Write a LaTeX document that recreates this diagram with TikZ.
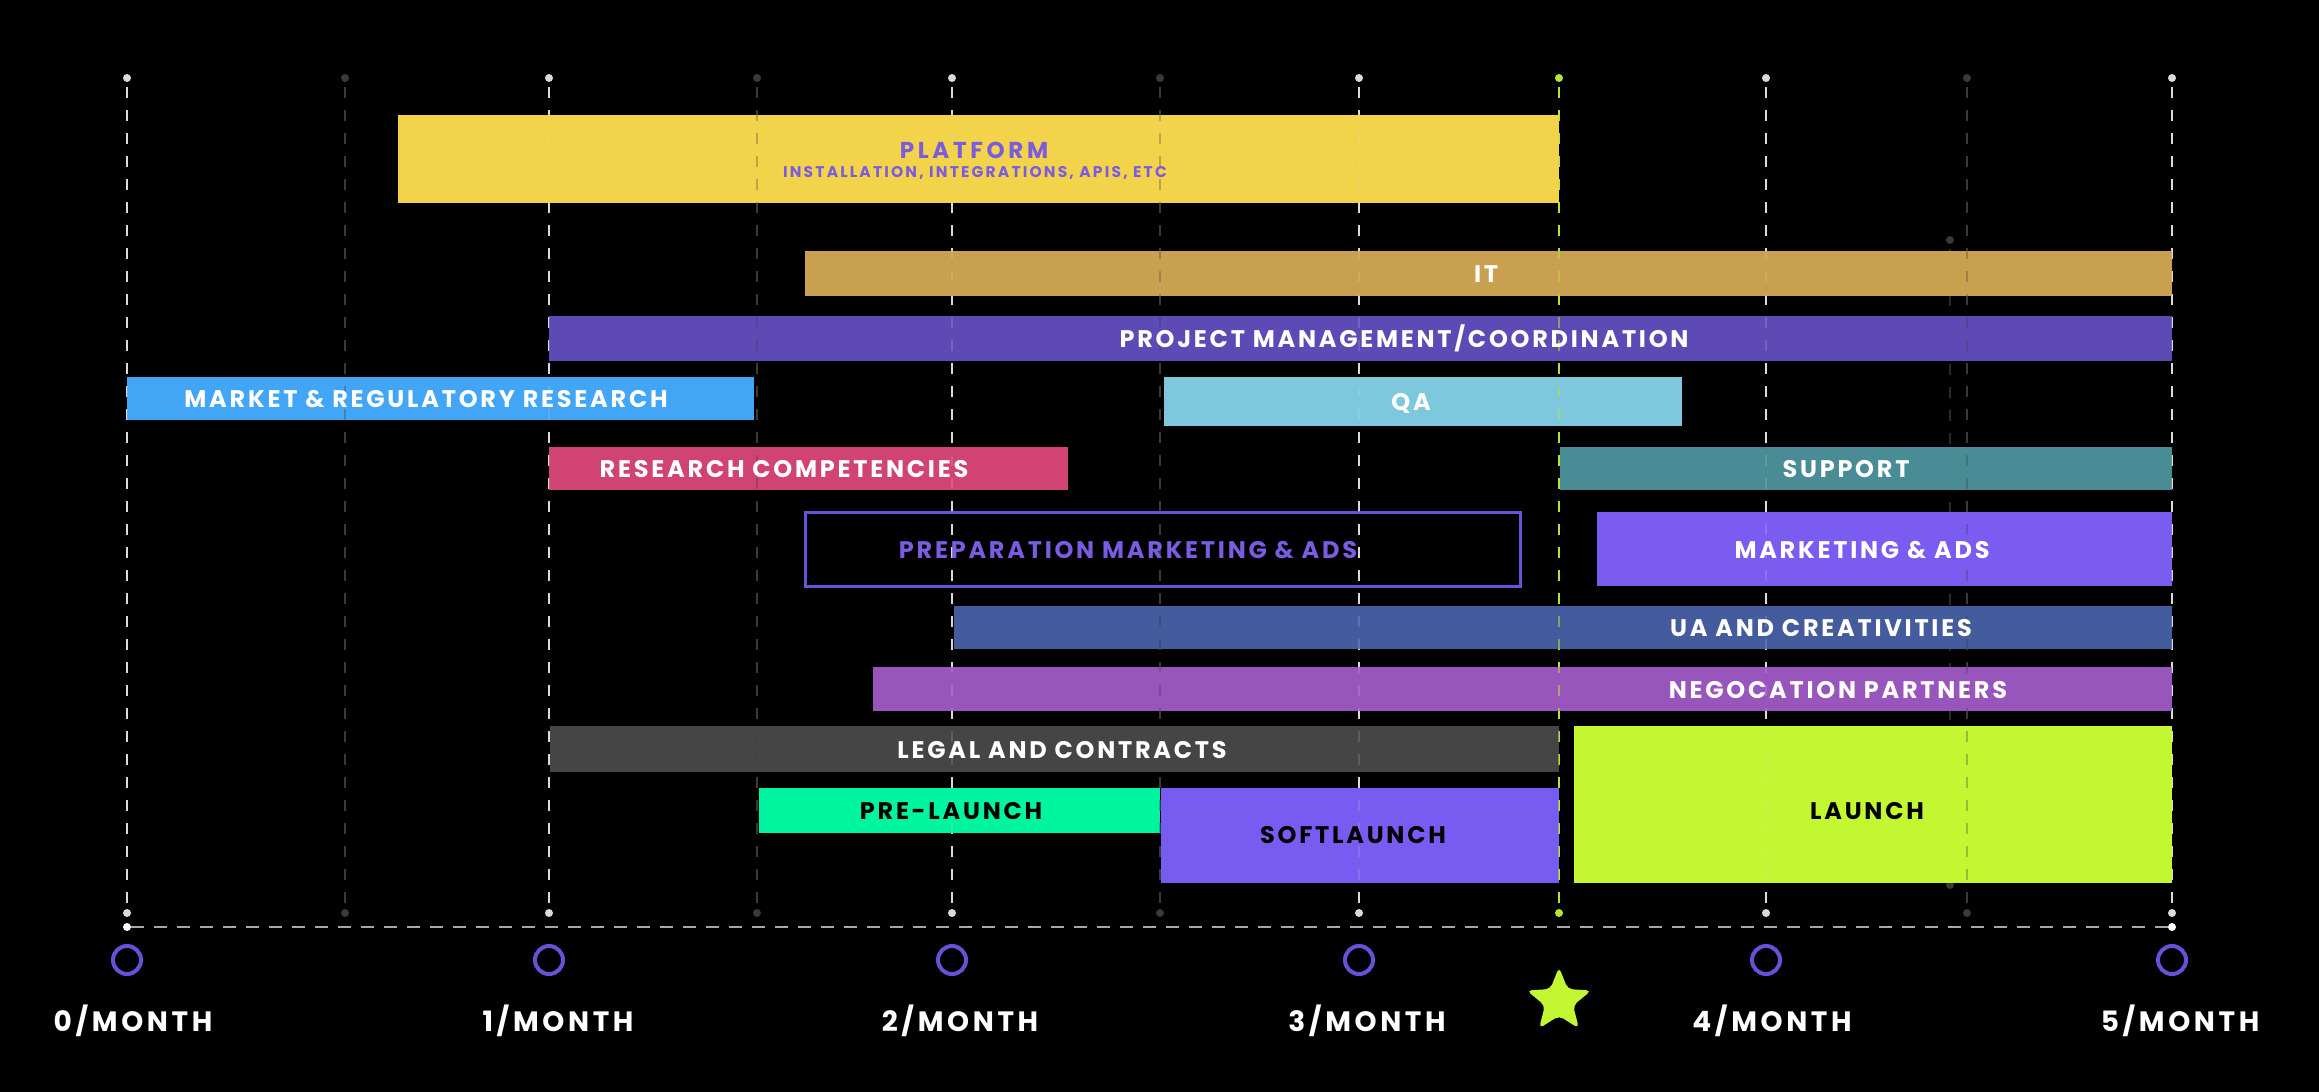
\documentclass[tikz,border=0pt]{standalone}
\usepackage{fontspec}
\setmainfont{Poppins}
\newfontfamily\barfont[LetterSpace=11.5]{Poppins}
\newfontfamily\subfont[LetterSpace=14]{Poppins}
\newfontfamily\titfont[LetterSpace=16]{Poppins}
\newfontfamily\monthfont[LetterSpace=13]{Poppins}
\usetikzlibrary{shapes.geometric,fit}
\definecolor{platc}{HTML}{F2D34A}
\definecolor{itc}{HTML}{C9A04F}
\definecolor{pmc}{HTML}{5E4AB5}
\definecolor{mktc}{HTML}{42A5F5}
\definecolor{qac}{HTML}{7EC8DE}
\definecolor{rcc}{HTML}{D04373}
\definecolor{supc}{HTML}{4A8C96}
\definecolor{prepc}{HTML}{6A52D8}
\definecolor{preptext}{HTML}{7A5CE0}
\definecolor{adsc}{HTML}{7B5CF0}
\definecolor{uac}{HTML}{445B9E}
\definecolor{negc}{HTML}{9856BD}
\definecolor{legc}{HTML}{454545}
\definecolor{prec}{HTML}{00F5A0}
\definecolor{softc}{HTML}{785BF0}
\definecolor{limec}{HTML}{C2F732}
\definecolor{ringc}{HTML}{6A4FD8}
\definecolor{mlinec}{HTML}{DADADA}
\definecolor{hlinec}{HTML}{3A3A3A}
\definecolor{llinec}{HTML}{B5E533}
\definecolor{axisc}{HTML}{A8A8A8}
\begin{document}
\begin{tikzpicture}[x=1pt,y=-1pt,
  barbox/.style={inner sep=0pt,outer sep=0pt,draw=none},
  lab/.style={font=\barfont\bfseries\fontsize{24}{24}\selectfont,text=white,anchor=base,inner sep=0pt},
  pin/.style={circle,inner sep=0pt,minimum size=8pt,draw=none},
  vline/.style={dash pattern=on 11pt off 12pt,line width=2pt},
  ring/.style={circle,draw=ringc,line width=4pt,minimum size=28pt,inner sep=0pt},
  mlab/.style={font=\monthfont\bfseries\fontsize{28}{28}\selectfont,text=white,anchor=base,inner sep=0pt}]
\fill[black] (0,0) rectangle (2319,1092);
\useasboundingbox (0,0) rectangle (2319,1092);
% grid lines
\foreach \n/\x/\c in {a/127/mlinec,b/345/hlinec,c/549/mlinec,d/757/hlinec,e/952/mlinec,f/1160/hlinec,g/1359/mlinec,h/1559/llinec,i/1766/mlinec,j/1967/hlinec,k/2172/mlinec}{
  \node[pin,fill=\c] (t\n) at (\x,78) {};
  \node[pin,fill=\c] (b\n) at (\x,913) {};
  \draw[vline,draw=\c,dash phase=-5pt] (t\n) -- (b\n);
}
% stray faint line
\node[pin,fill=hlinec] (sx1) at (1950,240) {};
\node[pin,fill=hlinec] (sx2) at (1950,885) {};
\draw[vline,draw=hlinec!70!black,dash phase=-5pt] (sx1) -- (sx2);
% bars
\node[barbox,fill=platc,fit={(398,115) (1559,203)}] (plat) {};
\node[barbox,fill=itc,fit={(805,251) (2172,296)}] (it) {};
\node[barbox,fill=pmc,fit={(549,316) (2172,361)}] (pm) {};
\node[barbox,fill=mktc,fit={(127,377) (754,420)}] (mkt) {};
\node[barbox,fill=qac,fit={(1164,377) (1682,426)}] (qa) {};
\node[barbox,fill=rcc,fit={(549,447) (1068,490)}] (rc) {};
\node[barbox,fill=supc,fit={(1560,447) (2172,490)}] (sup) {};
\node[barbox,draw=prepc,line width=3pt,fit={(805,512) (1520,586)}] (prep) {};
\node[barbox,fill=adsc,fit={(1597,512) (2172,586)}] (ads) {};
\node[barbox,fill=uac,fit={(954,606) (2172,649)}] (ua) {};
\node[barbox,fill=negc,fit={(873,667) (2172,711)}] (neg) {};
\node[barbox,fill=legc,fit={(550,726) (1559,772)}] (leg) {};
\node[barbox,fill=prec,fit={(759,788) (1160,833)}] (pre) {};
\node[barbox,fill=softc,fit={(1161,788) (1559,883)}] (soft) {};
\node[barbox,fill=limec,fit={(1574,726) (2172,883)}] (launch) {};
% faint grid over bars
\foreach \x/\c/\o in {127/mlinec/0.18,345/hlinec/0.3,549/mlinec/0.18,757/hlinec/0.3,952/mlinec/0.18,1160/hlinec/0.3,1359/mlinec/0.18,1559/llinec/0.55,1766/mlinec/0.18,1967/hlinec/0.3,2172/mlinec/0.18}{
  \draw[vline,draw=\c,draw opacity=\o,dash phase=-5pt] (\x,82) -- (\x,909);
}
% labels
\node[lab,text=preptext,font=\titfont\bfseries\fontsize{23}{23}\selectfont] (lplat) at (974,158) {PLATFORM};
\node[lab,text=preptext,font=\subfont\bfseries\fontsize{15.5}{16}\selectfont] (lplat2) at (975,177) {INSTALLATION, INTEGRATIONS, APIS, ETC};
\node[lab] (lit) at (1486,282) {IT};
\node[lab] (lpm) at (1404,347) {PROJECT MANAGEMENT/COORDINATION};
\node[lab] (lmkt) at (426,407) {MARKET \& REGULATORY RESEARCH};
\node[lab] (lqa) at (1411,410) {QA};
\node[lab] (lrc) at (784,477) {RESEARCH COMPETENCIES};
\node[lab] (lsup) at (1846,477) {SUPPORT};
\node[lab,text=preptext] (lprep) at (1128,558) {PREPARATION MARKETING \& ADS};
\node[lab] (lads) at (1862,558) {MARKETING \& ADS};
\node[lab] (lua) at (1821,636) {UA AND CREATIVITIES};
\node[lab] (lneg) at (1838,698) {NEGOCATION PARTNERS};
\node[lab] (lleg) at (1062,758) {LEGAL AND CONTRACTS};
\node[lab,text=black] (lpre) at (951,819) {PRE-LAUNCH};
\node[lab,text=black] (lsoft) at (1353,843) {SOFTLAUNCH};
\node[lab,text=black] (llaunch) at (1867,819) {LAUNCH};
% axis
\node[pin,fill=white] (ax1) at (127,927) {};
\node[pin,fill=white] (ax2) at (2172,927) {};
\draw[draw=axisc,line width=2.5pt,dash pattern=on 13pt off 10pt] (ax1) -- (ax2);
% month rings and labels
\foreach \n/\x/\lx in {0/127/133,1/549/558,2/952/960,3/1359/1367,4/1766/1772,5/2172/2180}{
  \node[ring] (c\n) at (\x,960) {};
  \node[mlab] (m\n) at (\lx,1031) {\n/MONTH};
}
\node[star,star points=5,star point ratio=2.3,minimum size=68pt,inner sep=0pt,fill=limec,rounded corners=5pt] (launchstar) at (1559,1001) {};
\end{tikzpicture}
\end{document}
